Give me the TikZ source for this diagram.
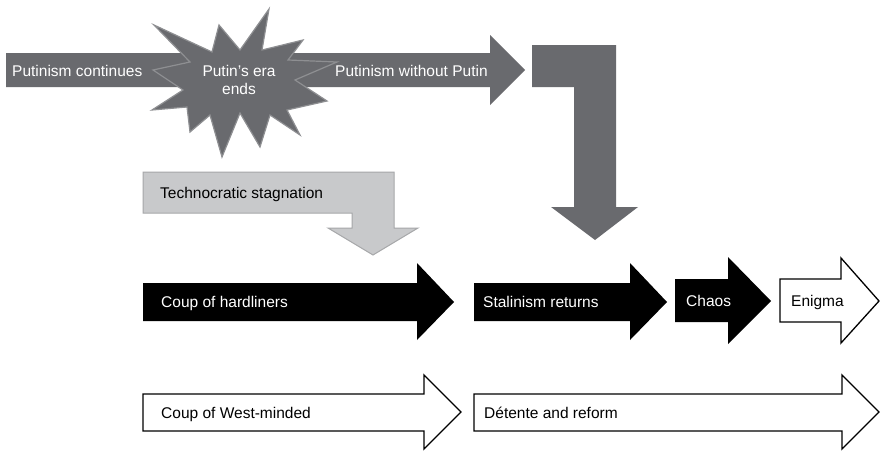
\documentclass[tikz,border=0pt]{standalone}
\usepackage{fontspec}
\setmainfont{Liberation Sans}
\definecolor{putin-grey}{HTML}{696A6E}
\definecolor{burst-edge}{HTML}{8E8F92}
\definecolor{techno-fill}{HTML}{C8C9CB}
\definecolor{techno-edge}{HTML}{A6A7A9}
\tikzset{
  darkarrow/.style={fill=putin-grey, draw=none},
  burst/.style={fill=putin-grey, draw=burst-edge, line width=1.2pt, line join=miter},
  lightarrow/.style={fill=techno-fill, draw=techno-edge, line width=1pt},
  blackarrow/.style={fill=black, draw=none},
  whitearrow/.style={fill=white, draw=black, line width=1.3pt, line join=miter},
  txt-light/.style={anchor=base west, inner sep=0pt, text=white,
    font=\fontsize{15.5}{18}\selectfont},
  txt-dark/.style={txt-light, text=black}
}

\begin{document}
\begin{tikzpicture}[x=1pt, y=-1pt]

  \fill[white] (0,0) rectangle (880,450);
  \useasboundingbox (0,0) rectangle (880,450);

  % ---- Top row: Putinism and the end of the era ----------------------------
  \fill[darkarrow] (6,53) -- (490,53) -- (490,35) -- (525,70) -- (490,105)
        -- (490,87) -- (6,87) -- cycle;
  \filldraw[burst] (154,25) -- (212,52) -- (219,25) -- (240,50) -- (269,9)
        -- (262,50) -- (303,40) -- (288,60) -- (337,62) -- (295,80)
        -- (327,101) -- (287,110) -- (300,135) -- (270,115) -- (260,147)
        -- (240,113) -- (222,157) -- (210,115) -- (190,132) -- (187,107)
        -- (152,110) -- (183,90) -- (153,70) -- (190,62) -- cycle;
  \fill[darkarrow] (532,45) -- (616,45) -- (616,207) -- (638,207) -- (595,240)
        -- (551,207) -- (574,207) -- (574,87) -- (532,87) -- cycle;

  \node[txt-light] (continues) at (12,76) {Putinism continues};
  \node[txt-light, anchor=center, align=center] (eraends) at (239,80)
        {Putin’s era\\ends};
  \node[txt-light] (without) at (335,76) {Putinism without Putin};

  % ---- Technocratic stagnation ---------------------------------------------
  \filldraw[lightarrow] (143,172) -- (394,172) -- (394,228) -- (418,228)
        -- (373,255) -- (328,228) -- (352,228) -- (352,213) -- (143,213) -- cycle;
  \node[txt-dark] (techno) at (160,198.5) {Technocratic stagnation};

  % ---- Middle row: hardliners ----------------------------------------------
  \fill[blackarrow] (143,283) -- (417,283) -- (417,263) -- (454,302) -- (417,340)
        -- (417,321) -- (143,321) -- cycle;
  \fill[blackarrow] (474,283) -- (630,283) -- (630,263) -- (667,302) -- (630,340)
        -- (630,321) -- (474,321) -- cycle;
  \fill[blackarrow] (675,279) -- (728,279) -- (728,257) -- (771,301) -- (728,344)
        -- (728,322) -- (675,322) -- cycle;
  \filldraw[whitearrow] (780,279) -- (841,279) -- (841,258) -- (879,301)
        -- (841,343) -- (841,322) -- (780,322) -- cycle;

  \node[txt-light] (hardliners) at (161,307.5) {Coup of hardliners};
  \node[txt-light] (stalinism)  at (483,307.5) {Stalinism returns};
  \node[txt-light] (chaos)      at (686,306.5) {Chaos};
  \node[txt-dark]  (enigma)     at (791,306.5) {Enigma};

  % ---- Bottom row: West-minded ---------------------------------------------
  \filldraw[whitearrow] (143,394) -- (424,394) -- (424,375) -- (461,412)
        -- (424,449) -- (424,431) -- (143,431) -- cycle;
  \filldraw[whitearrow] (474,394) -- (842,394) -- (842,375) -- (879,412)
        -- (842,449) -- (842,431) -- (474,431) -- cycle;

  \node[txt-dark] (westminded) at (161,418) {Coup of West-minded};
  \node[txt-dark] (detente)    at (484,418) {Détente and reform};

\end{tikzpicture}
\end{document}
